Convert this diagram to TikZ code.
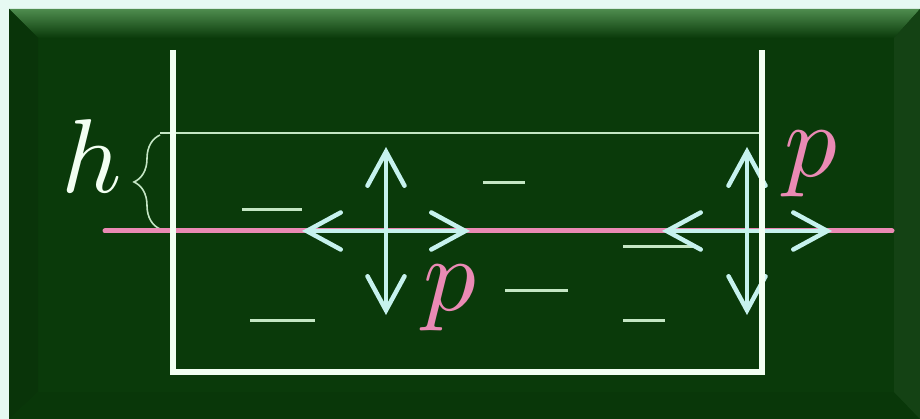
\documentclass[tikz,border=0pt]{standalone}
\usetikzlibrary{arrows.meta,decorations.pathreplacing}

\definecolor{paper}{HTML}{E6F9F2}
\definecolor{boardgreen}{HTML}{0A3A0A}
\definecolor{bevelgreen}{HTML}{4E8C4E}
\definecolor{chalkwhite}{HTML}{F2FFF2}
\definecolor{chalkgreen}{HTML}{C4E6C4}
\definecolor{chalkpink}{HTML}{EA8AB4}
\definecolor{chalkcyan}{HTML}{C6F2EE}
\newcommand{\bigsym}[1]{\scalebox{10.5}{$#1$}}

\begin{document}
\begin{tikzpicture}[
  x=1pt, y=-1pt,
  wall/.style={draw=chalkwhite, line width=6pt, line join=miter},
  level/.style={draw=chalkgreen, line width=2.5pt},
  ripple/.style={draw=chalkgreen, line width=3pt},
  interface/.style={draw=chalkpink, line width=5pt, line cap=round},
  pressure/.style={draw=chalkcyan, line width=4.5pt, line cap=round,
    {Straight Barb[length=34pt,width=37pt,line cap=round]}-{Straight Barb[length=34pt,width=37pt,line cap=round]}},
  sym/.style={inner sep=0pt}
]
  \useasboundingbox (0,0) rectangle (920,419);
  % board with bevelled frame
  \fill[paper] (0,0) rectangle (920,419);
  \fill[boardgreen] (9,9) rectangle (920,419);
  \shade[top color=bevelgreen, bottom color=boardgreen] (9,9) -- (920,9) -- (894,38) -- (38,38) -- cycle;
  \fill[boardgreen!90!black] (9,9) -- (38,38) -- (38,392) -- (9,419) -- cycle;
  \fill[boardgreen!95!black] (9,419) -- (38,392) -- (894,392) -- (920,419) -- cycle;
  \fill[boardgreen!96!white] (920,9) -- (894,38) -- (894,392) -- (920,419) -- cycle;

  % water surface and height
  \draw[level] (160,133) -- (762,133);
  \draw[level, line width=1.6pt, decorate, decoration={brace, amplitude=26pt}] (160,229) -- (160,135);
  \node[sym, text=chalkwhite, anchor=base] (h) at (92,193) {\bigsym{h}};

  % ripples in the water
  \draw[ripple] (242,210) -- (302,210);
  \draw[ripple] (483,183) -- (525,183);
  \draw[ripple] (250,320) -- (315,320);
  \draw[ripple] (505,291) -- (568,291);
  \draw[ripple] (623,247) -- (693,247);
  \draw[ripple] (623,320) -- (665,320);

  % depth h
  \draw[interface] (105,231) -- (892,231);

  % pressure in all directions
  \coordinate (inner) at (386,231);
  \coordinate (atwall) at (747,231);
  \draw[pressure] (inner) ++(-84,0) -- ++(168,0);
  \draw[pressure] (inner) ++(0,-84) -- ++(0,168);
  \draw[pressure] (atwall) ++(-85,0) -- ++(170,0);
  \draw[pressure] (atwall) ++(0,-84) -- ++(0,168);

  % vessel
  \draw[wall] (173,50) -- (173,372) -- (762,372) -- (762,50);

  \node[sym, text=chalkpink, anchor=base] (pin) at (450,311) {\bigsym{p}};
  \node[sym, text=chalkpink, anchor=base] (pwall) at (811,177) {\bigsym{p}};
\end{tikzpicture}
\end{document}
